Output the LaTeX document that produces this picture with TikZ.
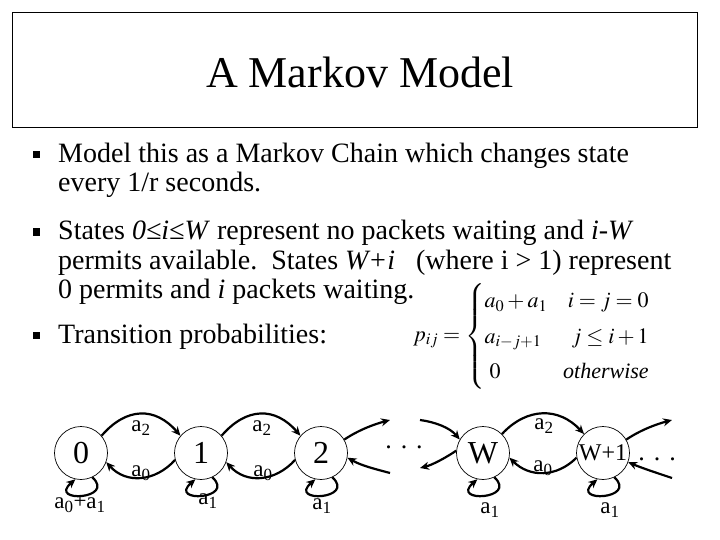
\documentclass[tikz,border=0pt]{standalone}
\usepackage{mathptmx}
\usepackage{fontspec}
\setmainfont{Liberation Serif}
\usetikzlibrary{positioning, arrows.meta, calc}
\tikzset{
  titlebox/.style={
    draw,
    line width=0.8pt
  },
  bullettext/.style={
    anchor=base west,
    inner sep=0pt,
    font=\fontsize{28}{30}\selectfont
  },
  bulletmark/.style={
    rectangle,
    fill=black,
    minimum size=7pt,
    inner sep=0pt
  },
  statenode/.style={
    circle,
    draw,
    line width=0.7pt,
    minimum size=53pt,
    inner sep=0pt,
    font=\fontsize{32}{32}\selectfont
  },
  chainarrow/.style={
    -{Stealth[length=9pt,width=8pt]},
    line width=2.2pt
  },
  edgelabel/.style={
    font=\fontsize{23}{23}\selectfont,
    inner sep=0pt
  },
  dotslabel/.style={
    font=\fontsize{26}{26}\selectfont,
    inner sep=0pt
  }
}

\begin{document}
\begin{tikzpicture}[x=1pt,y=-1pt]
  \useasboundingbox (0,0) rectangle (720,540);
  \draw[titlebox] (12,12) rectangle (697,127);
  \node[font=\fontsize{44}{44}\selectfont, inner sep=0pt] (title) at (360,72) {A Markov Model};

  \node[bulletmark] (b1) at (36,155) {};
  \node[bulletmark] (b2) at (36,232) {};
  \node[bulletmark] (b3) at (36,335) {};
  \node[bullettext] (l1) at (58,163) {Model this as a Markov Chain which changes state};
  \node[bullettext] (l2) at (58,192) {every 1/r seconds.};
  \node[bullettext] (l3) at (58,240) {States \textit{0≤i≤W} represent no packets waiting and \textit{i-W}};
  \node[bullettext] (l4) at (58,269) {permits available.\ \ States \textit{W+i}\ \ \ (where i > 1) represent};
  \node[bullettext] (l5) at (58,298) {0 permits and \textit{i} packets waiting.};
  \node[bullettext] (l6) at (58,343) {Transition probabilities:};

  \node[anchor=west, inner sep=0pt, font=\fontsize{22}{26}\selectfont] (pform) at (413,336)
    {\renewcommand\arraystretch{1.36}$p_{ij} = \left\{\begin{array}{@{}l@{\hspace{16pt}}r@{}}
      a_0 + a_1 & i = j = 0\\
      a_{i-j+1} & j \le i+1\\
      \;0 & \textit{otherwise}
    \end{array}\right.$};

  \node[statenode] (s0) at (81,453) {0};
  \node[statenode] (s1) at (201,453) {1};
  \node[statenode] (s2) at (321,453) {2};
  \node[statenode] (sW) at (483,453) {W};
  \node[statenode, font=\fontsize{24}{24}\selectfont] (sW1) at (603,453) {W+1};

  \node[dotslabel] (dotsA) at (404,447) {.\hspace{9pt}.\hspace{9pt}.};
  \node[dotslabel] (dotsB) at (657,459) {.\hspace{9pt}.\hspace{9pt}.};
  \coordinate (d1a) at (390,420);
  \coordinate (d1b) at (420,420);
  \coordinate (d1c) at (420,468);
  \coordinate (d1d) at (390,473);
  \coordinate (d2a) at (672,420);
  \coordinate (d2b) at (672,478);

  \draw[chainarrow] (s0.40) .. controls +(25,-29) and +(-25,-29) .. (s1.140);
  \draw[chainarrow] (s1.-165) .. controls +(-20,22) and +(20,22) .. (s0.-20);
  \draw[chainarrow] (s1.40) .. controls +(25,-29) and +(-25,-29) .. (s2.140);
  \draw[chainarrow] (s2.-165) .. controls +(-20,22) and +(20,22) .. (s1.-20);
  \draw[chainarrow] (s2.30) .. controls +(15,-10) and +(-15,4) .. (d1a);
  \draw[chainarrow] (d1d) .. controls +(-15,-4) and +(14,8) .. (s2.-10);
  \draw[chainarrow] (d1b) .. controls +(15,2) and +(-10,-12) .. (sW.150);
  \draw[chainarrow] (sW.175) .. controls +(-12,8) and +(12,-3) .. (d1c);
  \draw[chainarrow] (sW.45) .. controls +(25,-27) and +(-25,-27) .. (sW1.135);
  \draw[chainarrow] (sW1.-170) .. controls +(-20,20) and +(20,20) .. (sW.-10);
  \draw[chainarrow] (sW1.30) .. controls +(15,-10) and +(-15,4) .. (d2a);
  \draw[chainarrow] (d2b) .. controls +(-15,-5) and +(14,6) .. (sW1.-20);

  \draw[chainarrow] (s0.-65) .. controls +(24,22) and +(-28,24) .. (s0.-102);
  \draw[chainarrow] (s1.-65) .. controls +(24,22) and +(-28,24) .. (s1.-102);
  \draw[chainarrow] (s2.-65) .. controls +(24,22) and +(-28,24) .. (s2.-102);
  \draw[chainarrow] (sW.-65) .. controls +(24,22) and +(-28,24) .. (sW.-102);
  \draw[chainarrow] (sW1.-65) .. controls +(24,22) and +(-28,24) .. (sW1.-102);

  \node[edgelabel] (l01) at (141,428) {a\textsubscript{2}};
  \node[edgelabel] (l10) at (141,473) {a\textsubscript{0}};
  \node[edgelabel] (l12) at (262,428) {a\textsubscript{2}};
  \node[edgelabel] (l21) at (263,473) {a\textsubscript{0}};
  \node[edgelabel] (lWW1) at (544,426) {a\textsubscript{2}};
  \node[edgelabel] (lW1W) at (543,468) {a\textsubscript{0}};
  \node[edgelabel] (l00) at (80,504) {a\textsubscript{0}+a\textsubscript{1}};
  \node[edgelabel] (l11) at (208,501) {a\textsubscript{1}};
  \node[edgelabel] (l22) at (322,506) {a\textsubscript{1}};
  \node[edgelabel] (lWW) at (490,510) {a\textsubscript{1}};
  \node[edgelabel] (lW1W1) at (610,510) {a\textsubscript{1}};
\end{tikzpicture}
\end{document}
